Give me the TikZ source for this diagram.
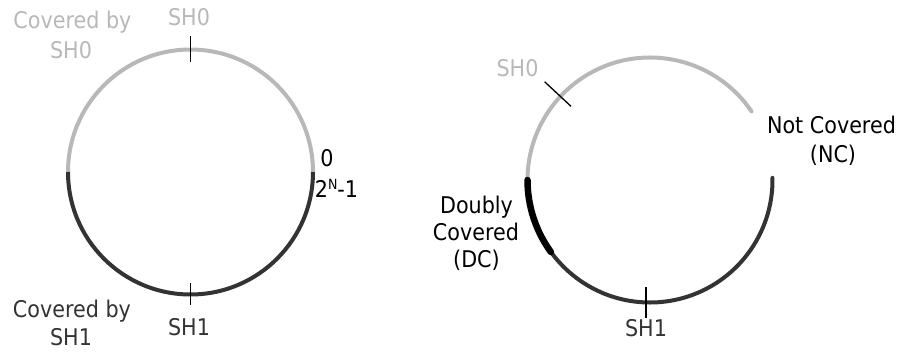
\documentclass[tikz,border=0pt]{standalone}
\usepackage{fontspec}
\setmainfont{DejaVu Sans}[FakeStretch=0.9]
\definecolor{lgray}{HTML}{B8B8B8}
\definecolor{dgray}{HTML}{333333}
\begin{document}
\begin{tikzpicture}[
  lbl/.style={inner sep=0pt, anchor=base, font=\fontsize{23}{28}\selectfont},
  arcgray/.style={draw=lgray, line width=4pt},
  arcdark/.style={draw=dgray, line width=4pt},
  arcthick/.style={draw=black, line width=6.5pt, line cap=round},
  tick/.style={draw=black, line width=1.3pt}
]
\useasboundingbox (0pt,-351pt) rectangle (900pt,0pt);
% centres
\coordinate (lc) at (190.5pt,-172pt);
\coordinate (rc) at (650pt,-180pt);
% left circle
\draw[arcgray] ([shift={(0:122.5pt)}]lc) arc[start angle=0, end angle=180, radius=122.5pt];
\draw[arcdark] ([shift={(180:122.5pt)}]lc) arc[start angle=180, end angle=360, radius=122.5pt];
\draw[tick] ([shift={(90:110pt)}]lc) -- ([shift={(90:136pt)}]lc);
\draw[tick] ([shift={(270:111pt)}]lc) -- ([shift={(270:133pt)}]lc);
% right circle
\draw[arcgray, line cap=round] ([shift={(34:122.5pt)}]rc) arc[start angle=34, end angle=180, radius=122.5pt];
\draw[arcdark, line cap=round] ([shift={(180:122.5pt)}]rc) arc[start angle=180, end angle=361, radius=122.5pt];
\draw[arcthick] ([shift={(180:122.5pt)}]rc) arc[start angle=180, end angle=216, radius=122.5pt];
\draw[tick] ([shift={(137:108pt)}]rc) -- ([shift={(137:144pt)}]rc);
\coordinate (rb1) at (646pt,-287pt);
\coordinate (rb2) at (646pt,-318pt);
\draw[tick] (rb1) -- (rb2);
% left labels
\node[lbl, text=lgray] (lsh0) at (189pt,-25pt) {SH0};
\node[lbl, text=lgray] (lcov0a) at (72.5pt,-28pt) {Covered by};
\node[lbl, text=lgray] (lcov0b) at (71pt,-58pt) {SH0};
\node[lbl, text=black] (lzero) at (327pt,-166pt) {0};
\node[lbl, text=black] (ltwo) at (336.5pt,-197pt) {2\raisebox{0.62ex}{\fontsize{14}{14}\selectfont N}-1};
\node[lbl, text=dgray] (lcov1a) at (72pt,-317pt) {Covered by};
\node[lbl, text=dgray] (lcov1b) at (71pt,-345pt) {SH1};
\node[lbl, text=dgray] (lsh1) at (189pt,-335pt) {SH1};
% right labels
\node[lbl, text=lgray] (rsh0) at (517.5pt,-76pt) {SH0};
\node[lbl, text=black] (rnc1) at (831.5pt,-133pt) {Not Covered};
\node[lbl, text=black] (rnc2) at (833pt,-162pt) {(NC)};
\node[lbl, text=black] (rdc1) at (476.5pt,-213pt) {Doubly};
\node[lbl, text=black] (rdc2) at (476pt,-240pt) {Covered};
\node[lbl, text=black] (rdc3) at (476.5pt,-267pt) {(DC)};
\node[lbl, text=dgray] (rsh1) at (646pt,-336pt) {SH1};
\end{tikzpicture}
\end{document}
